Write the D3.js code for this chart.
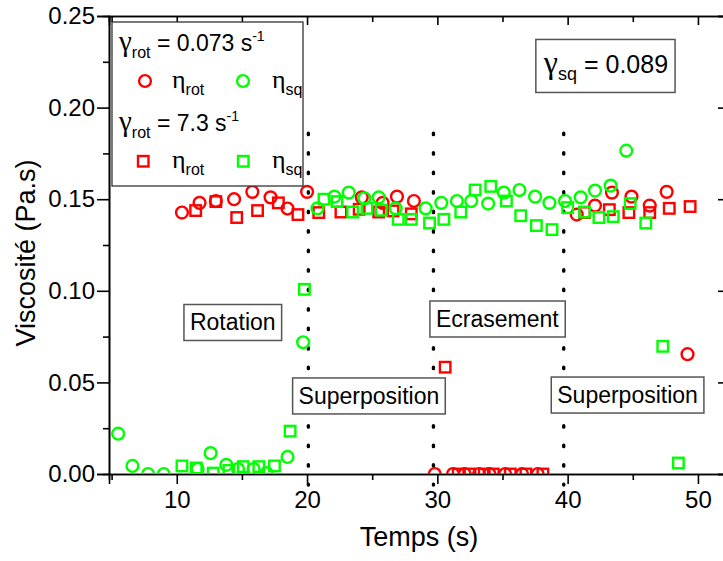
<!DOCTYPE html>
<html><head><meta charset="utf-8">
<script src="https://cdn.jsdelivr.net/npm/d3@7"></script>
<style>body{margin:0;background:#fff}svg{display:block}text{font-family:"Liberation Sans",Arial,sans-serif}.gr{font-family:"Liberation Serif","Times New Roman",serif}</style>
</head><body><svg id="c" width="723" height="561"></svg>
<script>
// ---- data ----
const rotCircT = [10.4,11.75,13.0,14.4,15.8,17.2,18.5,20.0,24.2,25.8,26.9,28.2,29.8,31.2,32.1,33.2,34.0,35.2,36.5,37.7,40.7,42.1,43.4,44.9,46.3,47.6,49.2];
const rotCircV = [0.1427,0.148,0.149,0.150,0.154,0.151,0.1449,0.154,0.151,0.148,0.1514,0.149,0,0,0,0,0,0,0,0,0.1416,0.1465,0.1536,0.1514,0.1465,0.154,0.0654];
const sqCircT = [5.5,6.6,7.8,9.0,11.6,12.6,13.8,14.7,15.9,16.9,18.5,19.7,20.8,22.1,23.2,24.4,25.5,26.8,29.1,30.3,31.5,32.6,33.9,35.1,36.3,37.5,38.6,39.8,41.0,42.1,43.3,44.5];
const sqCircV = [0.022,0.0044,0,0,0.0027,0.0114,0.005,0.0027,0.0027,0.0005,0.0093,0.0719,0.145,0.1514,0.1536,0.1505,0.151,0.145,0.145,0.148,0.149,0.149,0.1476,0.1536,0.155,0.1514,0.148,0.149,0.151,0.1547,0.1574,0.1765];
const rotSqT = [11.45,13.0,14.6,16.2,17.8,19.3,20.9,22.6,24.0,25.5,26.6,28.0,30.6,31.6,32.5,33.6,34.3,35.6,36.8,38.1,41.3,43.2,44.7,46.3,47.8,49.4];
const rotSqV = [0.1438,0.1487,0.140,0.1438,0.148,0.1416,0.1427,0.143,0.1445,0.143,0.1436,0.142,0.0583,0,0,0,0,0,0,0,0.1427,0.1443,0.1427,0.1427,0.145,0.146];
const sqSqT = [10.4,11.5,12.8,14.0,15.1,16.3,17.5,18.7,19.8,21.3,22.3,23.5,24.6,25.7,27.0,28.0,29.4,30.5,31.8,32.9,34.1,35.3,36.4,37.6,38.8,40.0,41.3,42.4,43.5,44.8,46.0,47.3,48.5,49.7];
const sqSqV = [0.0044,0.0033,0.0005,0.002,0.004,0.004,0.0044,0.0234,0.1008,0.150,0.1487,0.143,0.145,0.144,0.139,0.139,0.137,0.139,0.143,0.155,0.157,0.149,0.141,0.1356,0.1334,0.1454,0.143,0.140,0.1405,0.1476,0.137,0.0697,0.006,-0.004];
const phaseLines = [20.1, 29.7, 39.7];
const xMajor = [10,20,30,40,50];
const xMinor = [5,15,25,35,45];
const yMajor = [0,0.05,0.10,0.15,0.20,0.25];
const yMinor = [0.025,0.075,0.125,0.175,0.225];
const boxLabels = [
  {text:"Rotation", t:14.3, v:0.0827},
  {text:"Ecrasement", t:34.6, v:0.0846},
  {text:"Superposition", t:24.75, v:0.0426},
  {text:"Superposition", t:44.6, v:0.0431}
];
const RED = "#ff0000", GREEN = "#00ff00";

// ---- scales ----
const svg = d3.select("#c");
const x = d3.scaleLinear([4.8, 52], [109, 724]);
const y = d3.scaleLinear([0, 0.25], [474, 16]);
const [X0, X1] = x.range(), [Y0, Y1] = y.range();

svg.append("clipPath").attr("id","clip").append("rect")
  .attr("x",X0).attr("y",Y1).attr("width",X1-X0).attr("height",Y0-Y1);

// ---- axes ----
const fontTick = 24;
const gL = svg.append("g").attr("transform",`translate(${X0},0)`)
  .call(d3.axisLeft(y).tickValues(yMajor).tickSize(12).tickFormat(d3.format(".2f")));
const gLm = svg.append("g").attr("transform",`translate(${X0},0)`)
  .call(d3.axisLeft(y).tickValues(yMinor).tickSize(6).tickFormat(""));
const gB = svg.append("g").attr("transform",`translate(0,${Y0})`)
  .call(d3.axisBottom(x).tickValues(xMajor).tickSize(10).tickFormat(d3.format("d")));
const gBm = svg.append("g").attr("transform",`translate(0,${Y0})`)
  .call(d3.axisBottom(x).tickValues(xMinor).tickSize(6).tickFormat(""));
const gT = svg.append("g").attr("transform",`translate(0,${Y1})`)
  .call(d3.axisTop(x).tickValues(xMajor).tickSize(-9).tickFormat(""));
const gTm = svg.append("g").attr("transform",`translate(0,${Y1})`)
  .call(d3.axisTop(x).tickValues(xMinor).tickSize(-6).tickFormat(""));
const gR = svg.append("g").attr("transform",`translate(${X1},0)`)
  .call(d3.axisRight(y).tickValues(yMajor).tickSize(-6).tickFormat(""));
[gL,gLm,gB,gBm,gT,gTm,gR].forEach(g=>{
  g.selectAll(".domain").attr("stroke","#000").attr("stroke-width",1.6);
  g.selectAll(".tick line").attr("stroke","#000").attr("stroke-width",1.6);
  g.selectAll(".tick text").attr("font-size",fontTick).attr("fill","#000")
    .attr("font-family",'"Liberation Sans",Arial,sans-serif');
});
gL.selectAll(".tick text").attr("x",-14);
gB.selectAll(".tick text").attr("y",17);

svg.append("text").attr("x",419).attr("y",546).attr("text-anchor","middle")
  .attr("font-size",27).text("Temps (s)");
svg.append("text").attr("transform",`translate(35,${(Y0+Y1)/2+8}) rotate(-90)`)
  .attr("text-anchor","middle").attr("font-size",27).text("Viscosité (Pa.s)");

// ---- phase dotted lines ----
svg.append("g").selectAll("line").data(phaseLines).join("line")
  .attr("x1",d=>x(d)).attr("x2",d=>x(d)).attr("y1",y(0.186)).attr("y2",y(-0.006))
  .attr("stroke","#000").attr("stroke-width",3.4).attr("stroke-linecap","round")
  .attr("stroke-dasharray","1.4 18.1");

// ---- markers ----
const plot = svg.append("g").attr("clip-path","url(#clip)");
function circles(T,V,col){
  plot.append("g").selectAll("circle").data(T).join("circle")
    .attr("cx",d=>x(d)).attr("cy",(d,i)=>y(V[i])).attr("r",5.9)
    .attr("fill","none").attr("stroke",col).attr("stroke-width",2.4);
}
function squares(T,V,col){
  const s=10.5;
  plot.append("g").selectAll("rect").data(T).join("rect")
    .attr("x",d=>x(d)-s/2).attr("y",(d,i)=>y(V[i])-s/2).attr("width",s).attr("height",s)
    .attr("fill","none").attr("stroke",col).attr("stroke-width",2.4);
}
squares(rotSqT,rotSqV,RED);
circles(rotCircT,rotCircV,RED);
squares(sqSqT,sqSqV,GREEN);
circles(sqCircT,sqCircV,GREEN);

// ---- annotation boxes ----
boxLabels.forEach(b=>{
  const g = svg.append("g");
  const t = g.append("text").attr("x",x(b.t)).attr("y",y(b.v)+8).attr("text-anchor","middle")
    .attr("font-size",23).text(b.text);
  const bb = t.node().getBBox();
  g.insert("rect","text").attr("x",bb.x-6).attr("y",y(b.v)-18).attr("width",bb.width+12).attr("height",36)
    .attr("fill","#fff").attr("stroke","#555").attr("stroke-width",1.5);
});

// gamma_sq box
(function(){
  const g = svg.append("g");
  const cx = x(42.94), cy = y(0.223);
  const t = g.append("text").attr("x",cx).attr("y",cy+8).attr("text-anchor","middle").attr("font-size",25);
  t.append("tspan").attr("class","gr").attr("font-size",32).text("γ");
  t.append("tspan").attr("font-size",18).attr("dy",7).text("sq");
  t.append("tspan").attr("dy",-7).text(" = 0.089");
  const bb = t.node().getBBox();
  g.insert("rect","text").attr("x",bb.x-7).attr("y",cy-26).attr("width",bb.width+14).attr("height",53)
    .attr("fill","#fff").attr("stroke","#555").attr("stroke-width",1.5);
})();

// ---- legend ----
(function(){
  const g = svg.append("g");
  g.append("rect").attr("x",112).attr("y",22).attr("width",191).attr("height",164)
    .attr("fill","#fff").attr("stroke","#333").attr("stroke-width",1.3);
  function gammaLine(yb, val){
    const t = g.append("text").attr("x",119).attr("y",yb).attr("font-size",23);
    t.append("tspan").attr("class","gr").attr("font-size",29).text("γ");
    t.append("tspan").attr("font-size",16).attr("dy",7).text("rot");
    t.append("tspan").attr("dy",-7).text(" = " + val + " s");
    t.append("tspan").attr("font-size",14).attr("dy",-10).text("-1");
  }
  function eta(xp, yb, sub){
    const t = g.append("text").attr("x",xp).attr("y",yb).attr("font-size",26);
    t.append("tspan").attr("class","gr").text("η");
    t.append("tspan").attr("font-size",16).attr("dy",7).text(sub);
  }
  gammaLine(51, "0.073");
  gammaLine(131, "7.3");
  g.append("circle").attr("cx",145).attr("cy",81).attr("r",5.9).attr("fill","none").attr("stroke",RED).attr("stroke-width",2.4);
  g.append("circle").attr("cx",243).attr("cy",81).attr("r",5.9).attr("fill","none").attr("stroke",GREEN).attr("stroke-width",2.4);
  g.append("rect").attr("x",138).attr("y",156).attr("width",10.5).attr("height",10.5).attr("fill","none").attr("stroke",RED).attr("stroke-width",2.4);
  g.append("rect").attr("x",238).attr("y",156).attr("width",10.5).attr("height",10.5).attr("fill","none").attr("stroke",GREEN).attr("stroke-width",2.4);
  eta(172, 88, "rot"); eta(272, 88, "sq");
  eta(172, 168, "rot"); eta(272, 168, "sq");
})();
</script></body></html>
